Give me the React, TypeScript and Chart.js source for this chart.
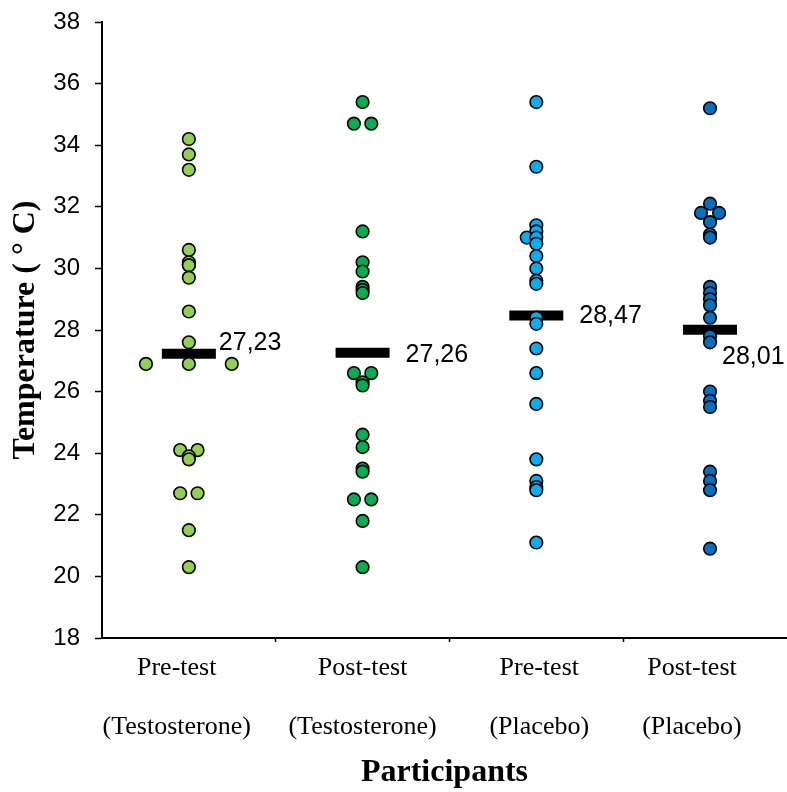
import React, { useEffect, useRef } from 'react';
import { Chart, registerables } from 'chart.js';

Chart.register(...registerables);

// ---------- data ----------
const categories: string[][] = [
  ['Pre-test', '(Testosterone)'],
  ['Post-test', '(Testosterone)'],
  ['Pre-test', '(Placebo)'],
  ['Post-test', '(Placebo)'],
];

const groupColors = ['#92D050', '#00B050', '#00B0F0', '#0070C0'];

const preTestosterone = [34.2, 33.7, 33.2, 30.6, 30.2, 30.1, 30.1, 29.7, 28.6, 27.6, 26.9, 26.9, 26.9, 24.1, 24.1, 23.9, 23.8, 22.7, 22.7, 21.5, 20.3];
const preTestosteroneJitter = [0, 0, 0, 0, 0, 0, 0, 0, 0, 0, -0.247, 0, 0.247, -0.05, 0.05, 0, 0, -0.05, 0.05, 0, 0];

const postTestosterone = [35.4, 34.7, 34.7, 31.2, 30.2, 29.9, 29.4, 29.3, 29.2, 26.6, 26.6, 26.3, 26.2, 24.6, 24.2, 23.5, 23.4, 22.5, 22.5, 21.8, 20.3];
const postTestosteroneJitter = [0, -0.05, 0.05, 0, 0, 0, 0, 0, 0, -0.05, 0.05, 0, 0, 0, 0, 0, 0, -0.05, 0.05, 0, 0];

const prePlacebo = [35.4, 33.3, 31.4, 31.2, 31.0, 31.0, 30.8, 30.4, 30.0, 29.6, 29.5, 28.4, 28.2, 27.4, 26.6, 25.6, 23.8, 23.1, 22.9, 22.8, 21.1];
const prePlaceboJitter = [0, 0, 0, 0, -0.055, 0, 0, 0, 0, 0, 0, 0, 0, 0, 0, 0, 0, 0, 0, 0, 0];

const postPlacebo = [35.2, 32.1, 31.8, 31.8, 31.5, 31.1, 31.0, 29.4, 29.2, 29.0, 28.8, 28.4, 27.8, 27.6, 26.0, 25.7, 25.5, 23.4, 23.1, 22.8, 20.9];
const postPlaceboJitter = [0, 0, -0.052, 0.052, 0, 0, 0, 0, 0, 0, 0, 0, 0, 0, 0, 0, 0, 0, 0, 0, 0];

const meanValues = [27.23, 27.26, 28.47, 28.01];

const yTickMin = 18;
const yTickMax = 38;
const yTickStep = 2;

const yTitle = 'Temperature ( \u00B0 C)';
const xTitle = 'Participants';

// ---------- presentation ----------
const serif = '"Liberation Serif", "Times New Roman", serif';
const sans = '"Liberation Sans", Arial, sans-serif';
// pixel offsets of the mean value labels relative to each mean bar centre
const meanLabelOffsets: [number, number][] = [
  [30, -11],
  [43, 2],
  [43, 1],
  [12, 27],
];
// small horizontal shift of each category label (in category units)
const categoryLabelShift = [-0.07, 0, 0.017, -0.104];

const groups = [
  { values: preTestosterone, jitter: preTestosteroneJitter },
  { values: postTestosterone, jitter: postTestosteroneJitter },
  { values: prePlacebo, jitter: prePlaceboJitter },
  { values: postPlacebo, jitter: postPlaceboJitter },
];

const meanLabelPlugin = {
  id: 'meanLabels',
  afterDatasetsDraw(chart: any) {
    const { ctx, scales } = chart;
    const xs = scales.x;
    const ys = scales.y;
    ctx.save();
    ctx.font = `25px ${sans}`;
    ctx.fillStyle = '#000';
    ctx.textAlign = 'left';
    ctx.textBaseline = 'middle';
    meanValues.forEach((m, i) => {
      const px = xs.getPixelForValue(i + 1);
      const py = ys.getPixelForValue(m);
      const [dx, dy] = meanLabelOffsets[i];
      ctx.fillText(m.toFixed(2).replace('.', ','), px + dx, py + dy);
    });
    ctx.restore();
  },
};

export default function App() {
  const canvasRef = useRef<HTMLCanvasElement | null>(null);

  useEffect(() => {
    if (!canvasRef.current) return;

    const pointDatasets = groups.map((g, gi) => ({
      label: categories[gi].join(' '),
      data: g.values.map((v, i) => ({ x: gi + 1 + g.jitter[i], y: v })),
      backgroundColor: groupColors[gi],
      borderColor: '#000',
      pointRadius: 6.3,
      pointBorderWidth: 1.6,
      pointHoverRadius: 6.3,
      showLine: false,
    }));

    const meanDataset = {
      label: 'Mean',
      data: meanValues.map((m, i) => ({ x: i + 1, y: m })),
      pointStyle: 'line',
      pointRadius: 27,
      pointHoverRadius: 27,
      borderColor: '#000',
      backgroundColor: '#000',
      pointBorderWidth: 10,
      pointHoverBorderWidth: 10,
      showLine: false,
    };

    // even index: category label position, odd index: boundary tick mark
    const tickValues: number[] = [];
    for (let i = 1; i <= categories.length; i++) {
      tickValues.push(i + categoryLabelShift[i - 1]);
      if (i < categories.length) tickValues.push(i + 0.5);
    }

    const chart = new Chart(canvasRef.current, {
      type: 'scatter',
      data: { datasets: [...pointDatasets, meanDataset] as any },
      plugins: [meanLabelPlugin],
      options: {
        responsive: false,
        maintainAspectRatio: false,
        devicePixelRatio: 1,
        animation: false,
        layout: { autoPadding: false, padding: { top: 22, right: 0, bottom: 0, left: 0 } },
        plugins: {
          legend: { display: false },
          tooltip: { enabled: false },
        },
        scales: {
          x: {
            type: 'linear',
            min: 0.5,
            max: 4.443,
            afterBuildTicks: (scale: any) => {
              scale.ticks = tickValues.map((v) => ({ value: v }));
            },
            afterFit: (scale: any) => {
              scale.height = 154;
              scale.paddingLeft = 0;
              scale.paddingRight = 0;
            },
            ticks: {
              autoSkip: false,
              maxRotation: 0,
              minRotation: 0,
              padding: -3.5,
              color: '#000',
              font: { family: serif, size: 26, lineHeight: 59 / 26 },
              callback: (_v: any, idx: number) => (idx % 2 === 0 ? categories[idx / 2] : ''),
            },
            grid: {
              drawOnChartArea: false,
              drawTicks: true,
              tickLength: 4,
              tickWidth: 1.5,
              tickColor: (ctx: any) => (ctx.index % 2 === 1 ? '#000' : 'rgba(0,0,0,0)'),
            },
            border: { display: true, color: '#000', width: 2 },
            title: {
              display: true,
              text: xTitle,
              color: '#000',
              font: { family: serif, size: 32, weight: 'bold' },
              padding: { top: 0, bottom: 0 },
            },
          },
          y: {
            type: 'linear',
            min: yTickMin,
            max: yTickMax,
            afterFit: (scale: any) => {
              scale.width = 102;
              scale.paddingTop = 0;
              scale.paddingBottom = 0;
            },
            ticks: {
              stepSize: yTickStep,
              padding: 15,
              color: '#000',
              font: { family: sans, size: 24 },
            },
            grid: {
              drawOnChartArea: false,
              drawTicks: true,
              tickLength: 7,
              tickWidth: 1.5,
              tickColor: '#000',
            },
            border: { display: true, color: '#000', width: 2 },
            title: {
              display: true,
              text: yTitle,
              color: '#000',
              font: { family: serif, size: 32, weight: 'bold' },
              padding: { top: 7, bottom: 0 },
            },
          },
        },
      } as any,
    });

    return () => {
      chart.destroy();
    };
  }, []);

  return (
    <div style={{ position: 'absolute', left: 0, top: 0, width: 787, height: 792, background: '#fff' }}>
      <canvas ref={canvasRef} width={787} height={792} style={{ display: 'block' }} />
    </div>
  );
}
